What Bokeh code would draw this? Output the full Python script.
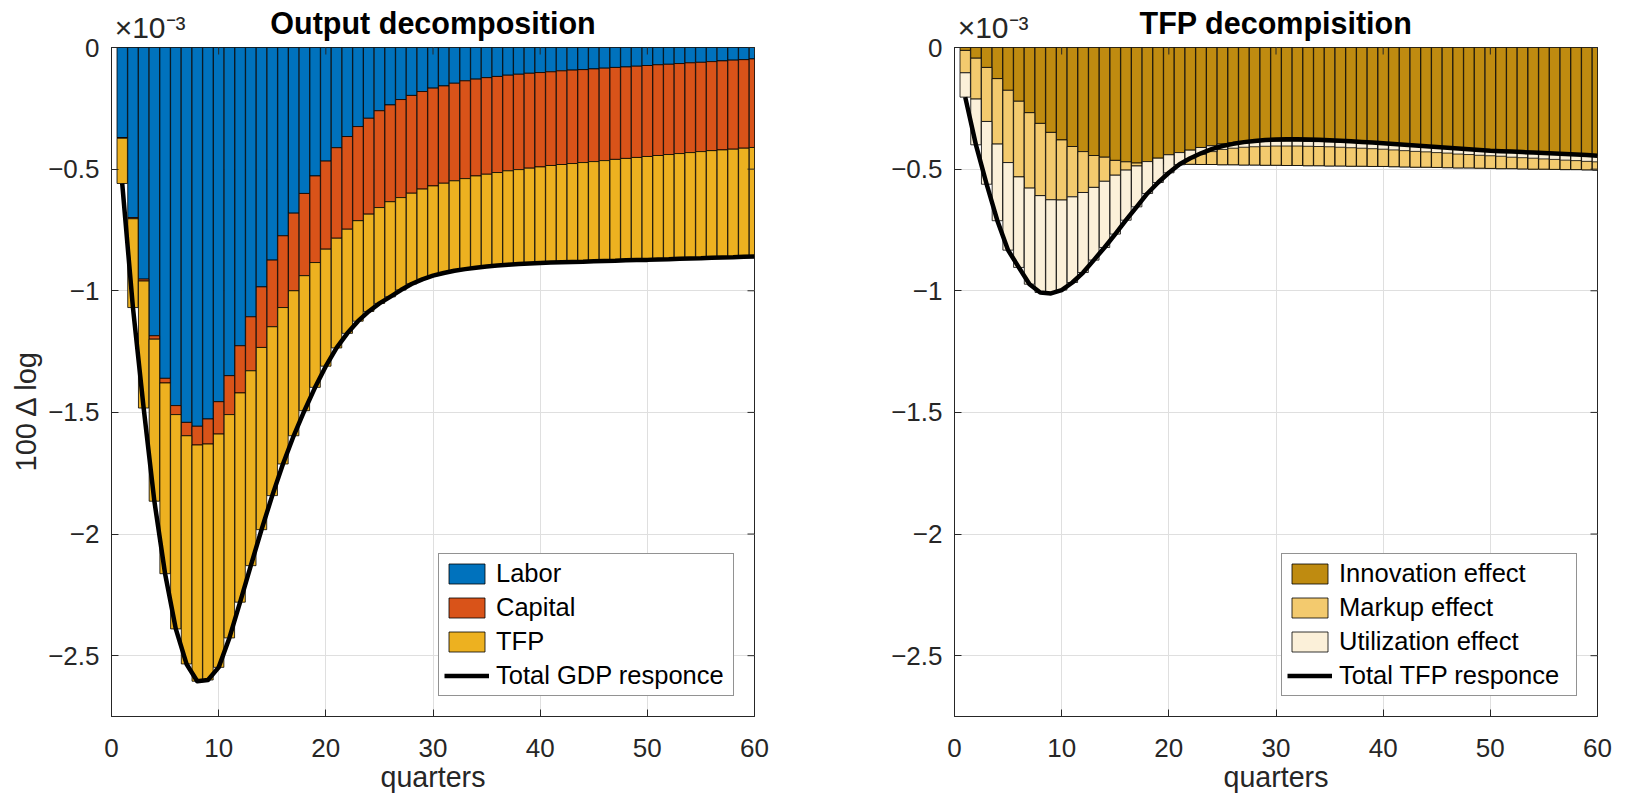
import numpy as np
from bokeh.plotting import figure
from bokeh.models import (ColumnDataSource, Range1d, FixedTicker, LinearAxis,
                          Legend, LegendItem)
from bokeh.layouts import row
from bokeh.embed import file_html
from bokeh.resources import INLINE

# ---------------- data (units of 1e-3) ----------------
quarters = list(range(1, 61))

labor = [-0.370, -0.699, -0.952, -1.185, -1.360, -1.472, -1.541, -1.557, -1.527, -1.456,
         -1.349, -1.226, -1.107, -0.984, -0.874, -0.774, -0.681, -0.600, -0.528, -0.467,
         -0.412, -0.366, -0.325, -0.291, -0.260, -0.236, -0.214, -0.197, -0.181, -0.167,
         -0.158, -0.147, -0.137, -0.130, -0.124, -0.119, -0.114, -0.110, -0.106, -0.103,
         -0.100, -0.096, -0.093, -0.091, -0.088, -0.085, -0.082, -0.080, -0.077, -0.074,
         -0.071, -0.069, -0.066, -0.063, -0.061, -0.058, -0.055, -0.052, -0.050, -0.047]

capital = [-0.003, -0.005, -0.008, -0.014, -0.019, -0.037, -0.055, -0.077, -0.103, -0.133,
           -0.160, -0.194, -0.222, -0.249, -0.274, -0.295, -0.319, -0.338, -0.356, -0.362,
           -0.372, -0.381, -0.387, -0.394, -0.398, -0.398, -0.403, -0.402, -0.401, -0.402,
           -0.400, -0.401, -0.402, -0.398, -0.397, -0.395, -0.393, -0.392, -0.390, -0.388,
           -0.385, -0.385, -0.384, -0.382, -0.381, -0.380, -0.378, -0.376, -0.375, -0.374,
           -0.373, -0.371, -0.370, -0.369, -0.367, -0.366, -0.366, -0.366, -0.364, -0.364]

tfp = [-0.186, -0.365, -0.522, -0.666, -0.784, -0.881, -0.938, -0.971, -0.970, -0.959,
       -0.918, -0.860, -0.801, -0.749, -0.694, -0.643, -0.596, -0.555, -0.513, -0.481,
       -0.451, -0.428, -0.413, -0.400, -0.394, -0.391, -0.380, -0.373, -0.371, -0.369,
       -0.369, -0.370, -0.372, -0.377, -0.379, -0.382, -0.386, -0.388, -0.392, -0.395,
       -0.399, -0.402, -0.405, -0.408, -0.410, -0.413, -0.417, -0.419, -0.422, -0.425,
       -0.427, -0.430, -0.432, -0.435, -0.438, -0.440, -0.442, -0.444, -0.446, -0.448]

gdp_total = [-0.559, -1.069, -1.482, -1.865, -2.163, -2.390, -2.534, -2.605, -2.600, -2.548,
             -2.427, -2.280, -2.130, -1.982, -1.842, -1.712, -1.596, -1.493, -1.397, -1.310,
             -1.235, -1.175, -1.125, -1.085, -1.052, -1.025, -0.997, -0.972, -0.953, -0.938,
             -0.927, -0.918, -0.911, -0.905, -0.900, -0.896, -0.893, -0.890, -0.888, -0.886,
             -0.884, -0.883, -0.882, -0.881, -0.879, -0.878, -0.877, -0.875, -0.874, -0.873,
             -0.871, -0.870, -0.868, -0.867, -0.866, -0.864, -0.863, -0.862, -0.860, -0.859]

innovation = [-0.012, -0.044, -0.082, -0.128, -0.176, -0.221, -0.268, -0.312, -0.349, -0.380,
              -0.407, -0.428, -0.444, -0.451, -0.464, -0.470, -0.475, -0.477, -0.478, -0.479,
              -0.480, -0.480, -0.481, -0.481, -0.482, -0.482, -0.483, -0.483, -0.484, -0.484,
              -0.485, -0.485, -0.486, -0.486, -0.487, -0.487, -0.488, -0.488, -0.489, -0.489,
              -0.490, -0.491, -0.492, -0.492, -0.493, -0.494, -0.495, -0.495, -0.496, -0.497,
              -0.498, -0.498, -0.499, -0.500, -0.500, -0.501, -0.502, -0.502, -0.503, -0.504]

markup = [-0.092, -0.168, -0.222, -0.269, -0.297, -0.311, -0.310, -0.297, -0.277, -0.247,
          -0.207, -0.168, -0.131, -0.099, -0.061, -0.034, -0.012, 0.008, 0.023, 0.038,
          0.048, 0.058, 0.070, 0.077, 0.085, 0.089, 0.093, 0.095, 0.098, 0.099,
          0.100, 0.100, 0.100, 0.099, 0.099, 0.098, 0.097, 0.095, 0.094, 0.092,
          0.090, 0.089, 0.087, 0.085, 0.083, 0.082, 0.080, 0.078, 0.076, 0.075,
          0.074, 0.071, 0.070, 0.069, 0.066, 0.065, 0.064, 0.062, 0.060, 0.059]

utilization = [-0.100, -0.188, -0.258, -0.315, -0.360, -0.372, -0.395, -0.398, -0.385, -0.370,
               -0.352, -0.329, -0.299, -0.272, -0.242, -0.206, -0.168, -0.131, -0.100, -0.074,
               -0.050, -0.035, -0.028, -0.024, -0.022, -0.021, -0.020, -0.020, -0.020, -0.020,
               -0.020, -0.020, -0.020, -0.020, -0.020, -0.021, -0.021, -0.021, -0.021, -0.021,
               -0.021, -0.022, -0.022, -0.022, -0.022, -0.022, -0.023, -0.023, -0.023, -0.023,
               -0.023, -0.024, -0.024, -0.024, -0.024, -0.024, -0.025, -0.025, -0.025, -0.025]

tfp_total = [-0.204, -0.400, -0.562, -0.712, -0.833, -0.904, -0.973, -1.007, -1.011, -0.997,
             -0.966, -0.925, -0.874, -0.822, -0.767, -0.710, -0.655, -0.600, -0.555, -0.515,
             -0.480, -0.455, -0.435, -0.418, -0.405, -0.396, -0.389, -0.384, -0.380, -0.378,
             -0.377, -0.377, -0.378, -0.379, -0.381, -0.383, -0.385, -0.388, -0.391, -0.394,
             -0.397, -0.400, -0.403, -0.406, -0.409, -0.412, -0.415, -0.418, -0.421, -0.424,
             -0.426, -0.428, -0.430, -0.432, -0.434, -0.436, -0.438, -0.440, -0.442, -0.445]

x_ticks = [0, 10, 20, 30, 40, 50, 60]
y_ticks = [0, -0.5, -1, -1.5, -2, -2.5]
y_tick_labels = {0: "0", -0.5: "\u22120.5", -1: "\u22121", -1.5: "\u22121.5",
                 -2: "\u22122", -2.5: "\u22122.5"}
exponent_text = "\u00d710\u207b\u00b3"

FONT = "Liberation Sans"
AX = "#262626"
TICK_LEN_PX = 7


def make_panel(title, series, names, colors, total, total_name, ylabel,
               border_left, border_right):
    p = figure(frame_width=643, frame_height=669,
               x_range=Range1d(0, 60), y_range=Range1d(-2.75, 0),
               output_backend="svg", toolbar_location=None, title=None,
               min_border_left=border_left, min_border_right=border_right,
               min_border_top=47, min_border_bottom=80)
    p.outline_line_color = AX
    p.outline_line_width = 1
    p.background_fill_color = "white"
    p.border_fill_color = "white"

    # grid
    p.xgrid.ticker = FixedTicker(ticks=x_ticks)
    p.ygrid.ticker = FixedTicker(ticks=y_ticks)
    p.xgrid.grid_line_color = "#DFDFDF"
    p.ygrid.grid_line_color = "#DFDFDF"

    # axes
    p.xaxis.ticker = FixedTicker(ticks=x_ticks)
    p.yaxis.ticker = FixedTicker(ticks=y_ticks)
    p.yaxis.major_label_overrides = y_tick_labels
    for ax in (p.xaxis[0], p.yaxis[0]):
        ax.major_tick_in = TICK_LEN_PX
        ax.major_tick_out = 0
        ax.minor_tick_in = 0
        ax.minor_tick_out = 0
        ax.axis_line_color = AX
        ax.major_tick_line_color = AX
        ax.major_label_text_font = FONT
        ax.major_label_text_font_size = "26px"
        ax.major_label_text_color = AX
        ax.axis_label_text_font = FONT
        ax.axis_label_text_font_size = "28.6px"
        ax.axis_label_text_font_style = "normal"
        ax.axis_label_text_color = AX
    p.xaxis.major_label_standoff = 22
    p.yaxis.major_label_standoff = 12
    p.xaxis.axis_label = "quarters"
    p.xaxis.axis_label_standoff = 1
    if ylabel:
        p.yaxis.axis_label = ylabel
        p.yaxis.axis_label_standoff = 3
        p.yaxis.axis_label_text_font_size = "29px"

    # top side: exponent marker (as tick label) and bold title (as axis label)
    top_ax = LinearAxis(ticker=FixedTicker(ticks=[3.6]),
                        major_label_overrides={3.6: exponent_text},
                        major_tick_in=0, major_tick_out=0, minor_tick_in=0, minor_tick_out=0,
                        axis_line_color=None, major_label_standoff=4,
                        major_label_text_font=FONT, major_label_text_font_size="30px",
                        major_label_text_color=AX,
                        axis_label=title, axis_label_standoff=-32,
                        axis_label_text_font=FONT, axis_label_text_font_size="30.5px",
                        axis_label_text_font_style="bold", axis_label_text_color="black")
    p.add_layout(top_ax, "above")

    # mirrored tick marks on the top and right edges of the box
    xr = p.x_range
    yr = p.y_range
    dy = TICK_LEN_PX * (yr.end - yr.start) / 669.0
    dx = TICK_LEN_PX * (xr.end - xr.start) / 643.0
    p.segment(x0=x_ticks, y0=[yr.end] * len(x_ticks), x1=x_ticks,
              y1=[yr.end - dy] * len(x_ticks), line_color=AX, line_width=1, level="overlay")
    p.segment(x0=[xr.end] * len(y_ticks), y0=y_ticks, x1=[xr.end - dx] * len(y_ticks),
              y1=y_ticks, line_color=AX, line_width=1, level="overlay")

    # stacked bars (cumulative stacking in series order)
    cum = np.zeros(len(quarters))
    items = []
    for vals, name, col in zip(series, names, colors):
        top = cum.copy()
        cum = cum + np.array(vals)
        src = ColumnDataSource(dict(x=quarters, top=top, bottom=cum.copy()))
        r = p.vbar(x="x", top="top", bottom="bottom", width=0.97, source=src,
                   fill_color=col, line_color="black", line_width=0.8)
        items.append(LegendItem(label=name, renderers=[r]))
    lr = p.line(quarters, total, line_width=4.5, line_color="black", line_join="round")
    items.append(LegendItem(label=total_name, renderers=[lr]))

    legend = Legend(items=items, location="bottom_right")
    legend.margin = 20
    legend.padding = 5
    legend.spacing = 5
    legend.glyph_width = 45
    legend.glyph_height = 25
    legend.label_standoff = 7
    legend.label_width = 232
    legend.label_text_font = FONT
    legend.label_text_font_size = "25.5px"
    legend.label_text_color = "black"
    legend.border_line_color = AX
    legend.border_line_width = 1
    legend.background_fill_color = "white"
    legend.background_fill_alpha = 1
    p.add_layout(legend)
    return p


p1 = make_panel("Output decomposition", [labor, capital, tfp],
                ["Labor", "Capital", "TFP"], ["#0072BD", "#D95319", "#EDB120"],
                gdp_total, "Total GDP responce", "100 \u0394 log       ", 111, 30)
p2 = make_panel("TFP decompisition", [innovation, markup, utilization],
                ["Innovation effect", "Markup effect", "Utilization effect"],
                ["#BF8B10", "#F3CA6E", "#FBF0D9"],
                tfp_total, "Total TFP responce", None, 170, 15)

layout = row(p1, p2)
open("out.html", "w").write(file_html(layout, INLINE))
